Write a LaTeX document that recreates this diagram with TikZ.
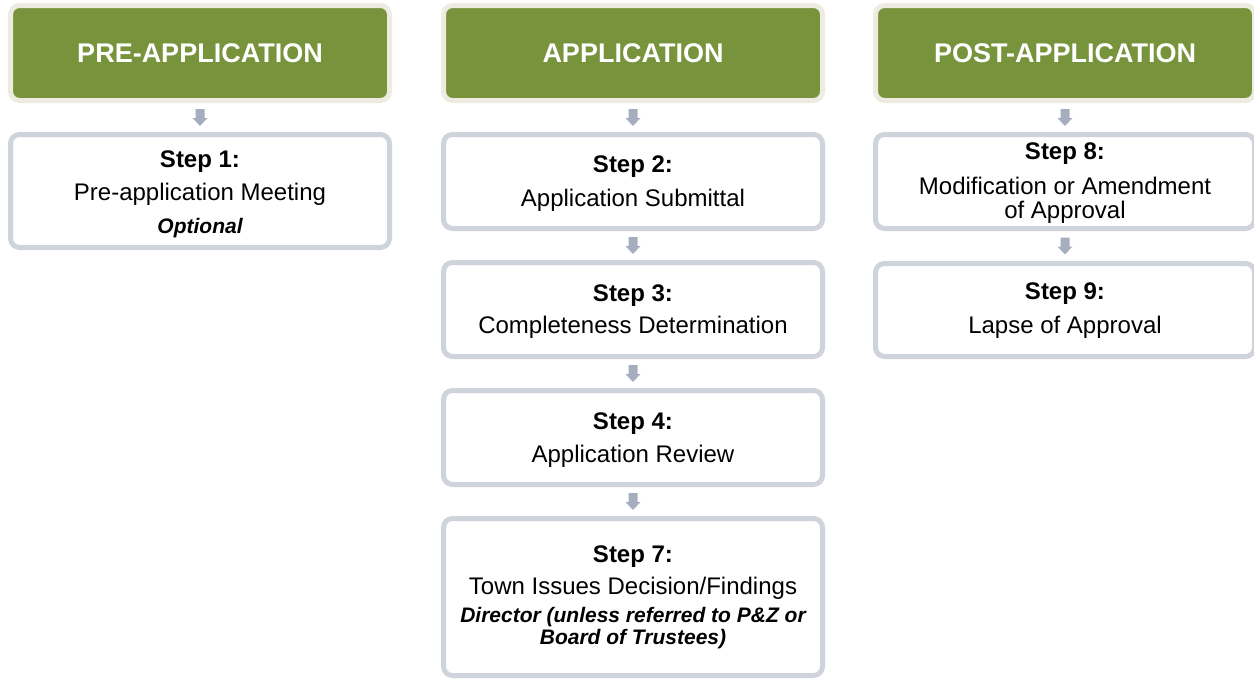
\documentclass[tikz,border=0pt]{standalone}
\usepackage{fontspec}
\setmainfont{Liberation Sans}
\usetikzlibrary{calc}
\definecolor{hdrgreen}{HTML}{77933C}
\definecolor{hdrring}{HTML}{EEECE1}
\definecolor{boxline}{HTML}{CFD3DB}
\definecolor{arrowcol}{HTML}{A6ADBF}
\tikzset{
  header/.style={draw=hdrring, fill=hdrgreen, line width=5pt, rounded corners=9pt,
    minimum width=379pt, minimum height=95pt, inner sep=0pt, text=white,
    font=\fontsize{27}{30}\selectfont\bfseries},
  stepbox/.style={draw=boxline, fill=white, line width=5pt, rounded corners=9pt,
    minimum width=379pt, inner sep=0pt, align=flush center, text width=372pt,
    font=\fontsize{24}{33}\selectfont}
}
% step title with a strut of given height (to place the text block)
\newcommand\steptitle[2]{\rule{0pt}{#2pt}\textbf{Step #1:}}
\newcommand\notefont{\fontsize{21}{22}\selectfont\bfseries\itshape}
\newcommand\flowarrow[2]{\fill[arrowcol] ($(#1.south)!0.5!(#2.north)$) ++(-4.5,-8.5)
  -- ++(9,0) -- ++(0,9) -- ++(3,0) -- ++(-7.5,8) -- ++(-7.5,-8) -- ++(3,0) -- cycle;}
\begin{document}
\begin{tikzpicture}[x=1pt,y=-1pt]
\useasboundingbox (0,0) rectangle (1254,680);
% headers
\node[header] (h1) at (200,53) {PRE-APPLICATION};
\node[header] (h2) at (633,53) {APPLICATION};
\node[header] (h3) at (1065,53) {POST-APPLICATION};
% column 1
\node[stepbox, minimum height=113pt] (s1) at (200,191)
  {\steptitle{1}{22.7}\\Pre-application Meeting\\\notefont Optional};
% column 2
\node[stepbox, minimum height=94pt] (s2) at (633,181.5)
  {\steptitle{2}{20}\\[1pt]Application Submittal};
\node[stepbox, minimum height=94pt] (s3) at (633,309.5)
  {\steptitle{3}{20}\\[-1pt]Completeness Determination};
\node[stepbox, minimum height=94pt] (s4) at (633,437.5)
  {\steptitle{4}{21}\\Application Review};
\node[stepbox, minimum height=157pt] (s7) at (633,597)
  {\steptitle{7}{17}\\[-1pt]Town Issues Decision/Findings\\[6pt]\notefont Director (unless referred to P\&Z or\\Board of Trustees)\par};
% column 3
\node[stepbox, minimum height=94pt] (s8) at (1065,181.5)
  {\steptitle{8}{19}\\[2pt]Modification or Amendment\\[-9pt]of Approval};
\node[stepbox, minimum height=93pt] (s9) at (1065,310)
  {\steptitle{9}{17}\\[1pt]Lapse of Approval};
% arrows
\flowarrow{h1}{s1}
\flowarrow{h2}{s2}
\flowarrow{s2}{s3}
\flowarrow{s3}{s4}
\flowarrow{s4}{s7}
\flowarrow{h3}{s8}
\flowarrow{s8}{s9}
\end{tikzpicture}
\end{document}
